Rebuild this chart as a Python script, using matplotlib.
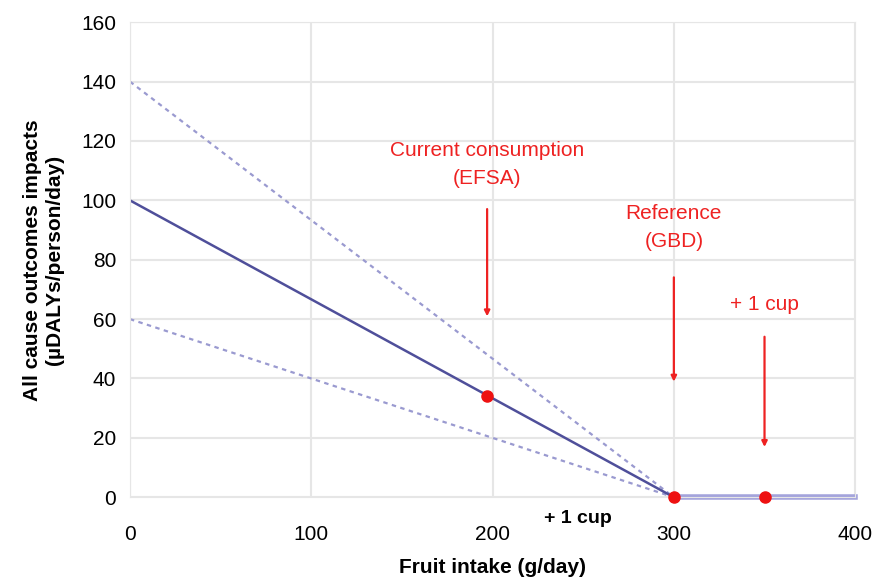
import matplotlib.pyplot as plt

plt.rcParams['font.family'] = ['Liberation Sans', 'DejaVu Sans']

# Data
intake_line = [0, 300]
central = [100, 0]
upper = [140, 0]
lower = [60, 0]
intake_flat = [300, 400]
flat = [0, 0]

point_x = [197, 300, 350]
point_y = [34, 0, 0]

# annotations: (x, text y, arrow top, arrow bottom, label)
notes_x = [197, 300, 350]
notes_text_y = [112, 91, 65]
arrow_top = [98, 75, 55]
arrow_bottom = [60, 38, 16]
notes_label = ['Current consumption\n(EFSA)', 'Reference\n(GBD)', '+ 1 cup']

fig = plt.figure(figsize=(8.78, 5.85), dpi=100)
ax = fig.add_axes([0.148, 0.150, 0.826, 0.812])

ax.plot(intake_line, upper, color='#9a9ad0', lw=1.6, ls=(0, (2, 2)))
ax.plot(intake_line, lower, color='#9a9ad0', lw=1.6, ls=(0, (2, 2)))
ax.plot(intake_line, central, color='#4f4f9a', lw=1.8)
ax.plot(intake_flat, flat, color='#a4a4dc', lw=4, clip_on=False)
ax.plot(point_x, point_y, 'o', color='#ee1111', ms=8, clip_on=False, zorder=5)

for x, ty, top, bot, lab in zip(notes_x, notes_text_y, arrow_top, arrow_bottom, notes_label):
    ax.text(x, ty, lab, color='#ee2222', fontsize=15, ha='center', va='center',
            linespacing=1.6)
    ax.annotate('', xy=(x, bot), xytext=(x, top),
                arrowprops=dict(arrowstyle='-|>', color='#ee2222', lw=1.6,
                                mutation_scale=8))

ax.text(247, -7, '+ 1 cup', fontsize=14, fontweight='bold', ha='center',
        va='center', clip_on=False)

ax.set_xlim(0, 400)
ax.set_ylim(0, 160)
ax.set_xticks([0, 100, 200, 300, 400])
ax.set_yticks(range(0, 161, 20))
ax.tick_params(labelsize=15, length=0)
ax.tick_params(axis='x', pad=20)
ax.tick_params(axis='y', pad=10)
ax.grid(True, color='#e6e6e6', lw=1.5)
ax.set_axisbelow(True)
for s in ax.spines.values():
    s.set_color('#e6e6e6')

ax.set_xlabel('Fruit intake (g/day)', fontsize=15, fontweight='bold', labelpad=10)
ax.set_ylabel('All cause outcomes impacts\n(µDALYs/person/day)', fontsize=15,
              fontweight='bold', labelpad=12)

fig.savefig('out.png', dpi=100)
